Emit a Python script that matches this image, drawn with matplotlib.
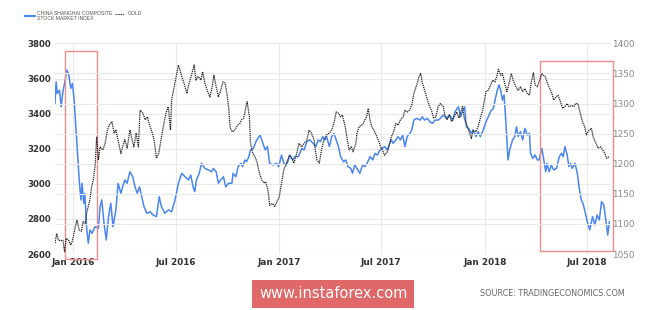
import pandas as pd
import numpy as np
import matplotlib
matplotlib.use('Agg')
import matplotlib.pyplot as plt
import matplotlib.dates as mdates
from matplotlib.patches import Rectangle

base_date = pd.Timestamp('2016-01-01')

# Shanghai composite: day offset from 2016-01-01, index value
sh_days = [-32, -30, -28, -24, -21, -18, -15, -11, -8, -4, -1, 2, 5, 8, 11, 14, 16, 19, 21, 24,
           27, 30, 34, 39, 45, 48, 51, 55, 59, 63, 67, 71, 76, 80, 85, 88, 92, 96, 101, 106,
           110, 114, 118, 122, 126, 131, 137, 142, 148, 153, 157, 163, 169, 175, 181, 187, 193, 199, 205, 209,
           213, 216, 219, 224, 228, 234, 240, 246, 249, 254, 258, 262, 267, 271, 276, 282, 284, 289, 293, 298,
           301, 305, 308, 312, 315, 320, 326, 332, 337, 341, 345, 349, 355, 361, 365, 370, 374, 379, 385, 390,
           394, 400, 406, 410, 415, 420, 426, 431, 435, 439, 443, 447, 450, 455, 459, 463, 467, 471, 475, 480,
           484, 488, 493, 496, 500, 504, 509, 514, 518, 522, 527, 532, 536, 540, 545, 549, 553, 558, 561, 565,
           568, 573, 577, 581, 585, 589, 593, 598, 601, 605, 610, 616, 620, 624, 629, 633, 638, 642, 648, 652,
           657, 663, 668, 674, 678, 684, 688, 691, 695, 698, 702, 707, 710, 715, 719, 723, 728, 733, 737, 741,
           746, 749, 753, 756, 759, 762, 765, 768, 772, 775, 780, 784, 787, 790, 794, 798, 802, 806, 810, 812,
           816, 820, 824, 827, 832, 836, 839, 841, 845, 849, 853, 858, 863, 867, 870, 873, 877, 880, 883, 886,
           891, 895, 898, 902, 905, 908, 912, 917, 922, 926, 930, 934, 938, 942, 946, 949, 952]
sh_vals = [3458, 3581, 3515, 3534, 3439, 3524, 3572, 3648, 3629, 3544, 3572, 3477, 3325, 3174, 3022, 2908, 3003, 2889, 2946, 2756,
           2661, 2737, 2718, 2756, 2746, 2869, 2908, 2775, 2680, 2813, 2889, 2756, 2851, 3003, 2946, 2983, 3022, 3003, 3069, 3040,
           2983, 2946, 2983, 2926, 2869, 2832, 2841, 2822, 2813, 2926, 2869, 2832, 2851, 2841, 2908, 3003, 3060, 3040, 3022, 3050,
           2983, 2955, 3022, 3060, 3117, 3088, 3079, 3069, 3088, 3069, 3003, 3022, 3040, 2983, 3003, 3003, 3060, 3040, 3098, 3117,
           3098, 3136, 3126, 3155, 3193, 3202, 3250, 3278, 3231, 3193, 3212, 3117, 3107, 3117, 3098, 3164, 3117, 3107, 3164, 3136,
           3155, 3155, 3202, 3193, 3240, 3250, 3231, 3212, 3250, 3240, 3269, 3250, 3269, 3212, 3269, 3288, 3250, 3212, 3155, 3126,
           3136, 3098, 3088, 3060, 3107, 3088, 3060, 3107, 3098, 3117, 3155, 3136, 3174, 3164, 3193, 3202, 3212, 3193, 3221, 3250,
           3231, 3250, 3269, 3250, 3278, 3212, 3269, 3288, 3306, 3363, 3373, 3363, 3382, 3363, 3373, 3354, 3344, 3363, 3363, 3373,
           3392, 3373, 3392, 3363, 3411, 3439, 3382, 3411, 3439, 3325, 3316, 3288, 3306, 3269, 3297, 3269, 3306, 3354, 3382, 3411,
           3430, 3477, 3534, 3563, 3534, 3477, 3506, 3363, 3136, 3193, 3250, 3269, 3325, 3269, 3297, 3250, 3316, 3278, 3288, 3174,
           3145, 3164, 3136, 3136, 3202, 3126, 3069, 3117, 3069, 3107, 3079, 3088, 3155, 3174, 3155, 3212, 3164, 3098, 3117, 3088,
           3117, 3060, 2983, 2908, 2889, 2851, 2794, 2737, 2813, 2765, 2822, 2794, 2898, 2879, 2784, 2708, 2784]

# Gold: day offset from 2016-01-01, USD/oz
gold_days = [-32, -29, -26, -22, -18, -15, -12, -8, -4, -1, 4, 7, 11, 15, 18, 22, 24, 27, 30, 33,
             36, 39, 42, 45, 48, 53, 57, 61, 64, 69, 73, 76, 80, 85, 88, 92, 96, 101, 105, 108,
             112, 116, 119, 124, 128, 132, 135, 140, 144, 148, 152, 156, 160, 165, 169, 173, 175, 179, 183, 187,
             190, 195, 197, 202, 206, 211, 215, 218, 222, 227, 230, 234, 238, 243, 247, 250, 254, 258, 262, 266,
             270, 273, 276, 279, 283, 287, 292, 296, 299, 303, 307, 309, 313, 315, 319, 323, 327, 331, 335, 339,
             342, 346, 349, 354, 358, 362, 366, 370, 374, 379, 384, 388, 392, 397, 401, 406, 410, 415, 419, 423,
             428, 429, 433, 437, 441, 445, 450, 455, 459, 463, 467, 471, 475, 478, 483, 487, 490, 494, 497, 502,
             504, 508, 512, 515, 518, 521, 524, 527, 530, 534, 538, 542, 546, 549, 553, 558, 562, 565, 569, 573,
             577, 581, 586, 589, 593, 597, 601, 605, 609, 611, 614, 617, 620, 624, 628, 633, 636, 640, 644, 648,
             652, 657, 660, 664, 668, 672, 676, 681, 685, 691, 695, 700, 703, 707, 710, 715, 719, 723, 727, 729,
             733, 737, 741, 745, 749, 752, 755, 759, 762, 766, 770, 774, 778, 781, 786, 790, 794, 798, 802, 806,
             810, 813, 817, 820, 824, 827, 832, 835, 838, 842, 846, 850, 853, 857, 861, 865, 869, 873, 877, 880,
             885, 889, 892, 896, 901, 904, 908, 911, 916, 920, 923, 928, 932, 936, 940, 944, 947, 952]
gold_vals = [1068, 1084, 1073, 1072, 1073, 1054, 1076, 1073, 1065, 1072, 1095, 1106, 1090, 1088, 1104, 1101, 1118, 1129, 1140, 1162,
             1173, 1195, 1245, 1206, 1228, 1223, 1234, 1256, 1264, 1270, 1251, 1256, 1239, 1217, 1228, 1240, 1226, 1256, 1239, 1228,
             1251, 1228, 1289, 1284, 1273, 1278, 1267, 1253, 1239, 1209, 1217, 1239, 1261, 1284, 1295, 1256, 1306, 1325, 1345, 1364,
             1355, 1339, 1334, 1317, 1334, 1350, 1364, 1339, 1345, 1339, 1353, 1334, 1322, 1311, 1328, 1347, 1328, 1311, 1322, 1336,
             1334, 1317, 1295, 1259, 1253, 1256, 1264, 1267, 1273, 1276, 1295, 1303, 1278, 1234, 1217, 1212, 1201, 1184, 1173, 1168,
             1170, 1156, 1131, 1134, 1129, 1137, 1145, 1168, 1190, 1201, 1214, 1209, 1201, 1217, 1234, 1228, 1234, 1239, 1256, 1251,
             1239, 1228, 1206, 1201, 1223, 1239, 1248, 1251, 1256, 1267, 1286, 1284, 1278, 1281, 1262, 1239, 1223, 1228, 1220, 1234,
             1251, 1262, 1264, 1267, 1273, 1278, 1292, 1273, 1262, 1256, 1248, 1239, 1228, 1223, 1214, 1220, 1234, 1245, 1253, 1267,
             1264, 1273, 1278, 1289, 1286, 1289, 1297, 1317, 1328, 1334, 1345, 1350, 1334, 1322, 1309, 1295, 1289, 1276, 1278, 1295,
             1300, 1295, 1281, 1273, 1281, 1270, 1278, 1286, 1276, 1295, 1273, 1262, 1253, 1242, 1256, 1253, 1262, 1276, 1289, 1300,
             1320, 1322, 1331, 1339, 1336, 1345, 1357, 1347, 1350, 1334, 1320, 1334, 1350, 1339, 1328, 1322, 1328, 1320, 1325, 1317,
             1314, 1334, 1351, 1331, 1328, 1336, 1350, 1347, 1345, 1334, 1325, 1317, 1306, 1311, 1314, 1303, 1292, 1295, 1300, 1295,
             1297, 1295, 1300, 1300, 1281, 1270, 1262, 1248, 1256, 1259, 1245, 1234, 1226, 1228, 1223, 1217, 1209, 1212]

left_ticks = [2600, 2800, 3000, 3200, 3400, 3600, 3800]
right_ticks = [1050, 1100, 1150, 1200, 1250, 1300, 1350, 1400]
x_tick_dates = ['2016-01-01', '2016-07-01', '2017-01-01', '2017-07-01', '2018-01-01', '2018-07-01']

# highlight boxes: (start day, end day, low, high) in Shanghai units
boxes = [(-14, 43, 2572, 3756), (828, 958, 2618, 3699)]

sh_dates = base_date + pd.to_timedelta(sh_days, unit='D')
gold_dates = base_date + pd.to_timedelta(gold_days, unit='D')

fig = plt.figure(figsize=(6.65, 3.10), dpi=100)
ax1 = fig.add_axes([0.0827, 0.1806, 0.8346, 0.6794])
ax2 = ax1.twinx()

blue = '#4a86f0'
grid_c = '#e9e9e9'

ax1.plot(sh_dates, sh_vals, color=blue, lw=1.1)
ax2.plot(gold_dates, gold_vals, color='#222222', lw=0.9, linestyle=(0, (1, 0.7)))

ax1.set_ylim(2600, 3800)
ax2.set_ylim(1050, 1400)
ax1.set_xlim(base_date + pd.Timedelta(days=-32), base_date + pd.Timedelta(days=953))

ax1.set_yticks(left_ticks)
ax2.set_yticks(right_ticks)
ax1.set_xticks(pd.to_datetime(x_tick_dates))
ax1.xaxis.set_major_formatter(mdates.DateFormatter('%b %Y'))

for a in (ax1, ax2):
    for s in a.spines.values():
        s.set_visible(False)
    a.tick_params(length=0)

ax1.grid(True, axis='both', color=grid_c, lw=0.8)
ax2.grid(True, axis='y', color=grid_c, lw=0.8)
ax1.set_axisbelow(True)
ax2.set_axisbelow(True)

ax1.tick_params(axis='y', labelsize=6.2, labelcolor='#333333', pad=2.5)
ax1.tick_params(axis='x', labelsize=6.4, labelcolor='#333333', pad=3)
ax2.tick_params(axis='y', labelsize=6.4, labelcolor='#8a8a8a', pad=1.5)
for lab in ax1.get_yticklabels() + ax1.get_xticklabels():
    lab.set_fontweight('semibold')

# red highlight boxes
for d0, d1, lo, hi in boxes:
    x0 = mdates.date2num(base_date + pd.Timedelta(days=d0))
    x1 = mdates.date2num(base_date + pd.Timedelta(days=d1))
    ax1.add_patch(Rectangle((x0, lo), x1 - x0, hi - lo, fill=False,
                            edgecolor='#f28b8b', lw=1.0, clip_on=False, zorder=5))

# legend
fig.add_artist(plt.Line2D([0.038, 0.052], [0.948, 0.948], color=blue, lw=1.5))
fig.text(0.056, 0.948, 'CHINA SHANGHAI COMPOSITE\nSTOCK MARKET INDEX', fontsize=3.7,
         family='Liberation Sans', color='#555555', va='center', ha='left', linespacing=1.0)
fig.add_artist(plt.Line2D([0.173, 0.187], [0.955, 0.955], color='#333333', lw=0.8,
                          linestyle=(0, (1, 0.7))))
fig.text(0.192, 0.955, 'GOLD', fontsize=3.7, family='Liberation Sans', color='#555555',
         va='center', ha='left')

# footer
fig.text(0.501, 0.052, 'www.instaforex.com', fontsize=10.5, color='white', ha='center', va='center',
         bbox=dict(boxstyle='square,pad=0.45', facecolor='#e06868', edgecolor='none'))
fig.text(0.830, 0.052, 'SOURCE: TRADINGECONOMICS.COM', fontsize=5.8, color='#666666',
         ha='center', va='center')

fig.savefig('out.png', dpi=100)
